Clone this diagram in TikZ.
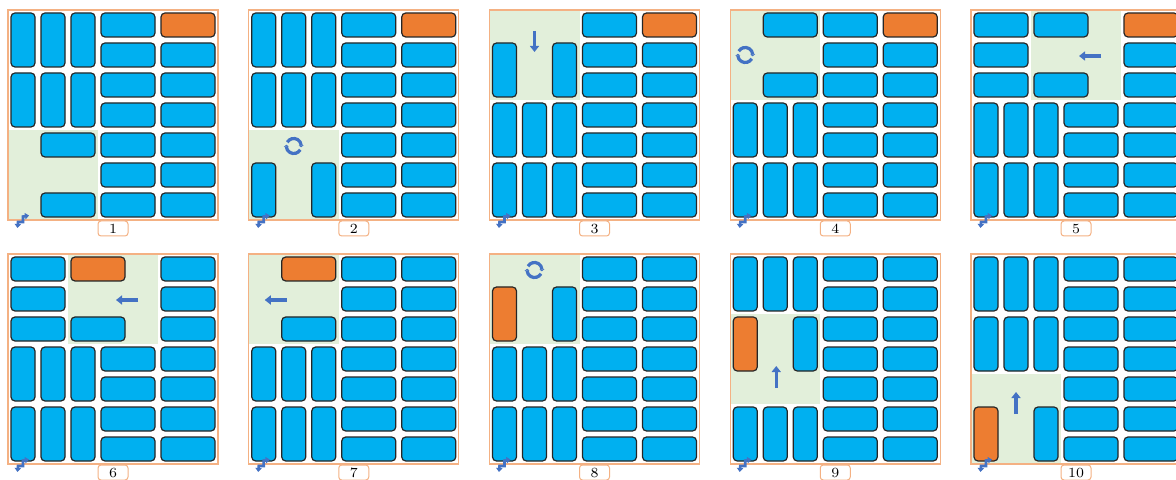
\documentclass[tikz,border=0pt]{standalone}
\usetikzlibrary{arrows.meta}
\definecolor{blk}{HTML}{00B0F0}
\definecolor{org}{HTML}{ED7D31}
\definecolor{grn}{HTML}{E2EFDA}
\definecolor{frm}{HTML}{F4B183}
\definecolor{icn}{HTML}{4472C4}
\definecolor{edge}{HTML}{262626}
\tikzset{
  cellb/.style={draw=edge, fill=blk, line width=0.6pt, rounded corners=2pt},
  cello/.style={cellb, fill=org},
  zone/.style={fill=grn},
  board/.style={draw=frm, line width=0.6pt},
  tag/.style={draw=frm, fill=white, line width=0.5pt, rounded corners=1.5pt, minimum width=15pt, minimum height=7.5pt, inner sep=0pt, font=\fontsize{7}{8}\selectfont},
  mv/.style={draw=icn, line width=1.6pt, -{Triangle[length=3pt,width=4.5pt]}},
  rot/.style={draw=icn, line width=1.6pt},
  rottip/.style={fill=icn},
  crn/.style={draw=icn, line width=1.3pt, {Triangle[length=2pt,width=3.2pt]}-{Triangle[length=2pt,width=3.2pt]}}
}
\newcommand\HB[3][cellb]{\draw[#1] ({#2*30+3},{#3*30+3}) rectangle ({#2*30+57},{#3*30+27});}
\newcommand\VB[3][cellb]{\draw[#1] ({#2*30+3},{#3*30+3}) rectangle ({#2*30+27},{#3*30+57});}
\newcommand\ZN[2]{\fill[zone] ({#1*30},{#2*30}) rectangle ({#1*30+90},{#2*30+90});}
\newcommand\VR[1]{\VB{0}{#1}\VB{1}{#1}\VB{2}{#1}}
\newcommand\RR[1]{\HB{3}{#1}\HB{5}{#1}}
\newcommand\RRrest{\RR{1}\RR{2}\RR{3}\RR{4}\RR{5}\RR{6}}
\newcommand\RRall{\RR{0}\RRrest}
\newcommand\ROT[2]{%
  \draw[rot] (#1,#2) ++(30:7.5) arc[start angle=30, end angle=175, radius=7.5];
  \draw[rot] (#1,#2) ++(210:7.5) arc[start angle=210, end angle=355, radius=7.5];
  \fill[rottip] (#1,#2) ++(175:5) -- ++(0,0) -- ($(#1,#2)+(175:10)$) -- ($(#1,#2)+(190:7.5)$) -- cycle;
  \fill[rottip] ($(#1,#2)+(355:5)$) -- ($(#1,#2)+(355:10)$) -- ($(#1,#2)+(10:7.5)$) -- cycle;}
\usetikzlibrary{calc}
\newcommand\Panel[4]{%
  \begin{scope}[shift={(#1,#2)}]
    #4
    \draw[board] (0,0) rectangle (210,210);
    \node[tag] (lab#3) at (105,218.5) {#3};
    \draw[crn] (9.5,218) -- (10,212) -- (15,212) -- (15,206.5) -- (21,205.5);
  \end{scope}}
\begin{document}
\begin{tikzpicture}[x=0.5pt,y=-0.5pt]
\useasboundingbox (0,0) rectangle (1176,480);
\clip (0,0) rectangle (1176,480);
\fill[white] (0,0) rectangle (1176,480);
% panel 1
\Panel{8}{10}{1}{%
  \ZN{0}{4}\VR{0}\VR{2}\HB{1}{4}\HB{1}{6}
  \HB{3}{0}\HB[cello]{5}{0}\RRrest}
% panel 2
\Panel{248.75}{10}{2}{%
  \ZN{0}{4}\VR{0}\VR{2}\VB{0}{5}\VB{2}{5}
  \HB{3}{0}\HB[cello]{5}{0}\RRrest
  \ROT{45}{136}}
% panel 3
\Panel{489.5}{10}{3}{%
  \ZN{0}{0}\VB{0}{1}\VB{2}{1}\VR{3}\VR{5}
  \HB{3}{0}\HB[cello]{5}{0}\RRrest
  \draw[mv] (45,21) -- (45,42);}
% panel 4
\Panel{730.25}{10}{4}{%
  \ZN{0}{0}\HB{1}{0}\HB{1}{2}\VR{3}\VR{5}
  \HB{3}{0}\HB[cello]{5}{0}\RRrest
  \ROT{15}{45}}
% panel 5
\Panel{971}{10}{5}{%
  \ZN{2}{0}\HB{0}{0}\HB{2}{0}\HB{0}{1}\HB{0}{2}\HB{2}{2}
  \HB[cello]{5}{0}\HB{5}{1}\HB{5}{2}
  \RR{3}\RR{4}\RR{5}\RR{6}\VR{3}\VR{5}
  \draw[mv] (130,46) -- (108,46);}
% panel 6
\Panel{8}{254}{6}{%
  \ZN{2}{0}\HB{0}{0}\HB[cello]{2}{0}\HB{0}{1}\HB{0}{2}\HB{2}{2}
  \HB{5}{0}\HB{5}{1}\HB{5}{2}
  \RR{3}\RR{4}\RR{5}\RR{6}\VR{3}\VR{5}
  \draw[mv] (130,46) -- (108,46);}
% panel 7
\Panel{248.75}{254}{7}{%
  \ZN{0}{0}\HB[cello]{1}{0}\HB{1}{2}\VR{3}\VR{5}\RRall
  \draw[mv] (38,46) -- (16,46);}
% panel 8
\Panel{489.5}{254}{8}{%
  \ZN{0}{0}\VB[cello]{0}{1}\VB{2}{1}\VR{3}\VR{5}\RRall
  \ROT{45}{16}}
% panel 9
\Panel{730.25}{254}{9}{%
  \ZN{0}{2}\VR{0}\VB[cello]{0}{2}\VB{2}{2}\VR{5}\RRall
  \draw[mv] (46,134) -- (46,112);}
% panel 10
\Panel{971}{254}{10}{%
  \ZN{0}{4}\VR{0}\VR{2}\VB[cello]{0}{5}\VB{2}{5}\RRall
  \draw[mv] (45,160) -- (45,138);}
\end{tikzpicture}
\end{document}
